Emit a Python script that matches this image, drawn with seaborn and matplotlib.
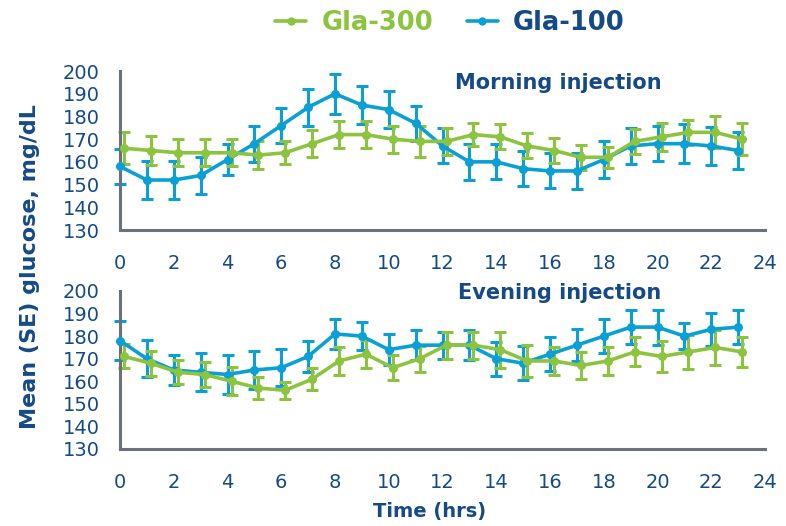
import matplotlib
matplotlib.use("Agg")
import matplotlib.pyplot as plt
import seaborn as sns
import pandas as pd
from matplotlib.lines import Line2D

# Hourly mean glucose (mg/dL) and standard errors
hours = list(range(24))

morning_gla300 = [166, 165, 164, 164, 164, 163, 164, 168, 172, 172, 170, 169,
                  169, 172, 171, 167, 165, 162, 162, 169, 171, 173, 173, 170]
morning_gla300_se = [7, 6.5, 6, 6, 6, 6, 5, 6, 6, 6, 6, 7,
                     6, 5, 5.5, 5.5, 5.5, 5.5, 4.5, 5.5, 6, 5.5, 7, 7]
morning_gla100 = [158, 152, 152, 154, 161, 168, 176, 184, 190, 185, 183, 177,
                  167, 160, 160, 157, 156, 156, 161, 167, 168, 168, 167, 165]
morning_gla100_se = [7.8, 8.5, 8.5, 8, 7, 8, 7.7, 8.2, 8.8, 8.5, 8.3, 7.7,
                     7.7, 8, 7.7, 7.7, 7.7, 8, 8, 8, 7.7, 8.6, 8.2, 8]

evening_gla300 = [171, 168, 164, 163, 160, 157, 156, 161, 169, 172, 166, 170,
                  176, 176, 174, 169, 169, 167, 169, 173, 171, 173, 175, 173]
evening_gla300_se = [5.3, 5.6, 5.3, 5.7, 6.2, 5, 3.7, 4.8, 6.4, 6.3, 5.6, 5.8,
                     6, 6, 8, 7, 6, 5.8, 6, 6.4, 7, 7.4, 7.6, 6.5]
evening_gla100 = [178, 170, 165, 164, 163, 165, 166, 171, 181, 180, 174, 176,
                  176, 176, 170, 168, 172, 176, 180, 184, 184, 180, 183, 184]
evening_gla100_se = [8.7, 8.3, 6.5, 8.5, 8.7, 8.5, 8.2, 7, 6.7, 6.2, 7, 6.5,
                     6, 6.5, 7.5, 7.5, 7.5, 7, 7.4, 7.5, 7.8, 5.7, 7.2, 7.5]

series_names = ["Gla-300", "Gla-100"]
panel_titles = ["Morning injection", "Evening injection"]
x_ticks = list(range(0, 25, 2))
y_ticks = list(range(130, 201, 10))

GREEN = "#8cc43f"
BLUE = "#0aa0d6"
NAVY = "#154a86"
AXIS_GREY = "#6c7179"
palette = {"Gla-300": GREEN, "Gla-100": BLUE}
dodge = {"Gla-300": 0.15, "Gla-100": 0.0}

rows = []
for panel, g300, g300se, g100, g100se in [
    (panel_titles[0], morning_gla300, morning_gla300_se, morning_gla100, morning_gla100_se),
    (panel_titles[1], evening_gla300, evening_gla300_se, evening_gla100, evening_gla100_se),
]:
    for h, m, s in zip(hours, g300, g300se):
        rows.append((panel, "Gla-300", h, m, s))
    for h, m, s in zip(hours, g100, g100se):
        rows.append((panel, "Gla-100", h, m, s))
df = pd.DataFrame(rows, columns=["panel", "series", "hour", "glucose", "se"])
df["pos"] = df["hour"] + df["series"].map(dodge)

sns.set_style("white")
plt.rcParams["font.family"] = ["DejaVu Sans"]

fig = plt.figure(figsize=(7.86, 5.26), dpi=100)
fig.patch.set_facecolor("white")
ax_top = fig.add_axes([120 / 786, 1 - 230 / 526, 645 / 786, 159 / 526])
ax_bot = fig.add_axes([120 / 786, 1 - 449 / 526, 645 / 786, 158 / 526])

for ax, panel in zip([ax_top, ax_bot], panel_titles):
    sub = df[df["panel"] == panel]
    for name in ["Gla-100", "Gla-300"]:
        s = sub[sub["series"] == name]
        ax.errorbar(s["pos"], s["glucose"], yerr=s["se"], fmt="none",
                    ecolor=palette[name], elinewidth=2.2, capsize=4.5,
                    capthick=2.2, clip_on=False, zorder=2)
        sns.lineplot(data=s, x="pos", y="glucose", color=palette[name],
                     marker="o", markersize=6.5, markeredgewidth=0,
                     linewidth=2.6, errorbar=None, legend=False, ax=ax,
                     clip_on=False, zorder=3)
    ax.set_xlim(0, 24)
    ax.set_ylim(130, 200)
    ax.set_xticks(x_ticks)
    ax.set_yticks(y_ticks)
    ax.set_xlabel("")
    ax.set_ylabel("")
    ax.set_facecolor("none")
    for side in ["top", "right"]:
        ax.spines[side].set_visible(False)
    for side in ["left", "bottom"]:
        ax.spines[side].set_color(AXIS_GREY)
        ax.spines[side].set_linewidth(2.2)
    ax.tick_params(axis="both", direction="out", length=7.5, width=2.2,
                   color=AXIS_GREY, labelcolor=NAVY, labelsize=14)
    ax.tick_params(axis="x", pad=10)
    ax.tick_params(axis="y", pad=7)

fig.text(558 / 786, 1 - 83 / 526, panel_titles[0], ha="center", va="center",
         fontsize=15, fontweight="bold", color=NAVY)
fig.text(560 / 786, 1 - 293 / 526, panel_titles[1], ha="center", va="center",
         fontsize=15, fontweight="bold", color=NAVY)

fig.text(30 / 786, 1 - 267 / 526, "Mean (SE) glucose, mg/dL", rotation=90,
         ha="center", va="center", fontsize=16, fontweight="bold", color=NAVY)
fig.text(430 / 786, 1 - 512 / 526, "Time (hrs)", ha="center", va="center",
         fontsize=14, fontweight="bold", color=NAVY)

handles = [Line2D([0], [0], color=palette[n], lw=2.6, marker="o", ms=6,
                  markeredgewidth=0) for n in series_names]
leg = fig.legend(handles, series_names, loc="center",
                 bbox_to_anchor=(450 / 786, 1 - 23 / 526), ncol=2,
                 frameon=False, prop={"size": 18.5, "weight": "bold"},
                 handlelength=1.2, handletextpad=0.6, columnspacing=1.3)
for txt, col in zip(leg.get_texts(), [GREEN, NAVY]):
    txt.set_color(col)

fig.savefig("out.png", dpi=100)
